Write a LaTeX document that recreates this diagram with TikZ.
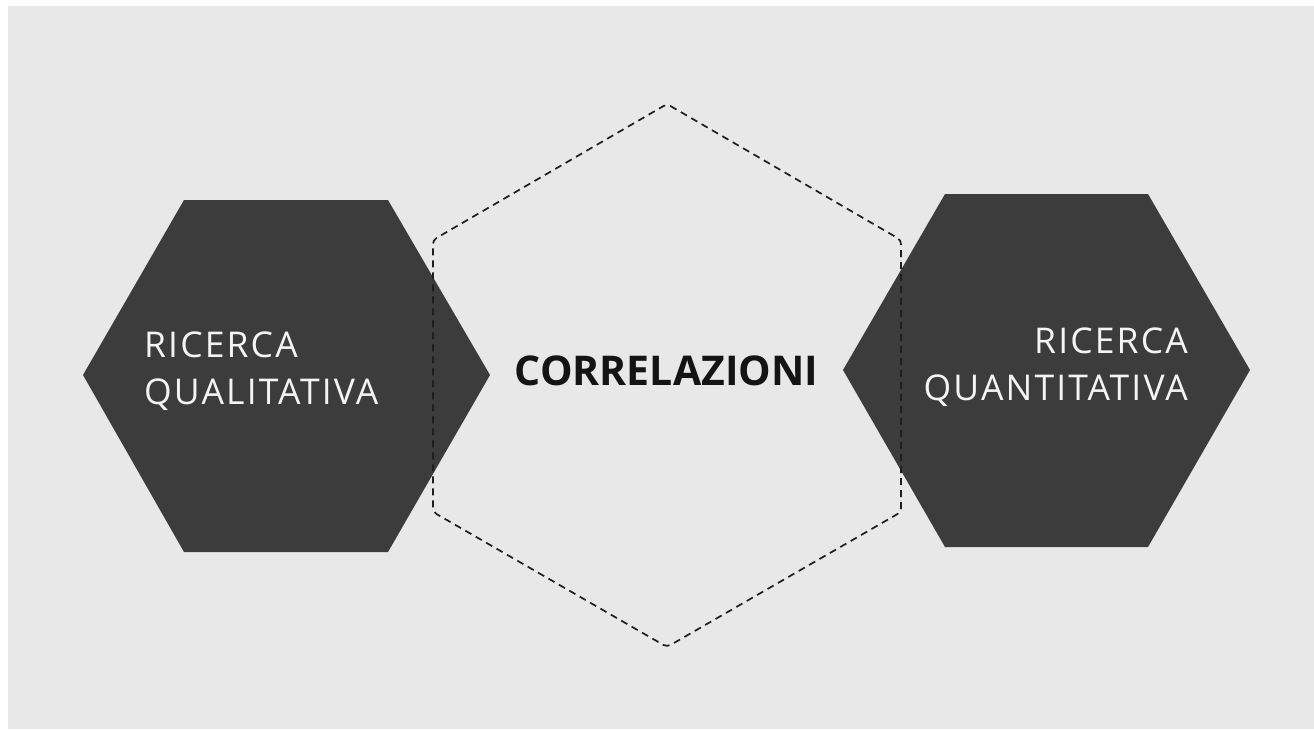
\documentclass[tikz,border=0pt]{standalone}
\usepackage{fontspec}
\setmainfont{Open Sans}
\newfontfamily\lblfont[LetterSpace=6]{Open Sans}
\definecolor{bg}{HTML}{E8E8E8}
\definecolor{hexfill}{HTML}{3C3C3C}
\definecolor{hextext}{HTML}{F4F4F4}
\definecolor{dashcol}{HTML}{1E1E1E}
\begin{document}
\begin{tikzpicture}[x=1pt,y=-1pt,
  hexagon/.style={fill=hexfill,draw=none},
  dashhex/.style={draw=dashcol,line width=1.7pt,dash pattern=on 7pt off 5pt,rounded corners=4pt},
  hexlabel/.style={text=hextext,inner sep=0pt,font=\lblfont\fontsize{35.5}{47}\selectfont},
  midlabel/.style={text=black!92,inner sep=0pt,font=\fontsize{41}{50}\selectfont\bfseries}]
\useasboundingbox (0,0) rectangle (1314,729);
\fill[white] (0,0) rectangle (1314,729);
\fill[bg] (8,6) rectangle (1314,729);
% left hexagon
\coordinate (l1) at (184,200);
\coordinate (l2) at (388,200);
\coordinate (l3) at (490,375);
\coordinate (l4) at (388,552);
\coordinate (l5) at (184,552);
\coordinate (l6) at (83,375);
\fill[hexagon] (l1) -- (l2) -- (l3) -- (l4) -- (l5) -- (l6) -- cycle;
% right hexagon
\coordinate (r1) at (945,194);
\coordinate (r2) at (1148,194);
\coordinate (r3) at (1250,370);
\coordinate (r4) at (1148,547);
\coordinate (r5) at (945,547);
\coordinate (r6) at (843,370);
\fill[hexagon] (r1) -- (r2) -- (r3) -- (r4) -- (r5) -- (r6) -- cycle;
% dashed hexagon
\coordinate (d1) at (667,104);
\coordinate (d2) at (901,240);
\coordinate (d3) at (901,512);
\coordinate (d4) at (667,647);
\coordinate (d5) at (433,512);
\coordinate (d6) at (433,240);
\draw[dashhex] (d1) -- (d2) -- (d3) -- (d4) -- (d5) -- (d6) -- cycle;
% labels
\node[hexlabel,anchor=north west,align=left] (qual) at (144,332) {RICERCA\\QUALITATIVA};
\node[hexlabel,anchor=north east,align=right] (quant) at (1188,328) {RICERCA\\QUANTITATIVA};
\node[midlabel,anchor=base] (corr) at (666.5,385) {CORRELAZIONI};
\end{tikzpicture}
\end{document}
